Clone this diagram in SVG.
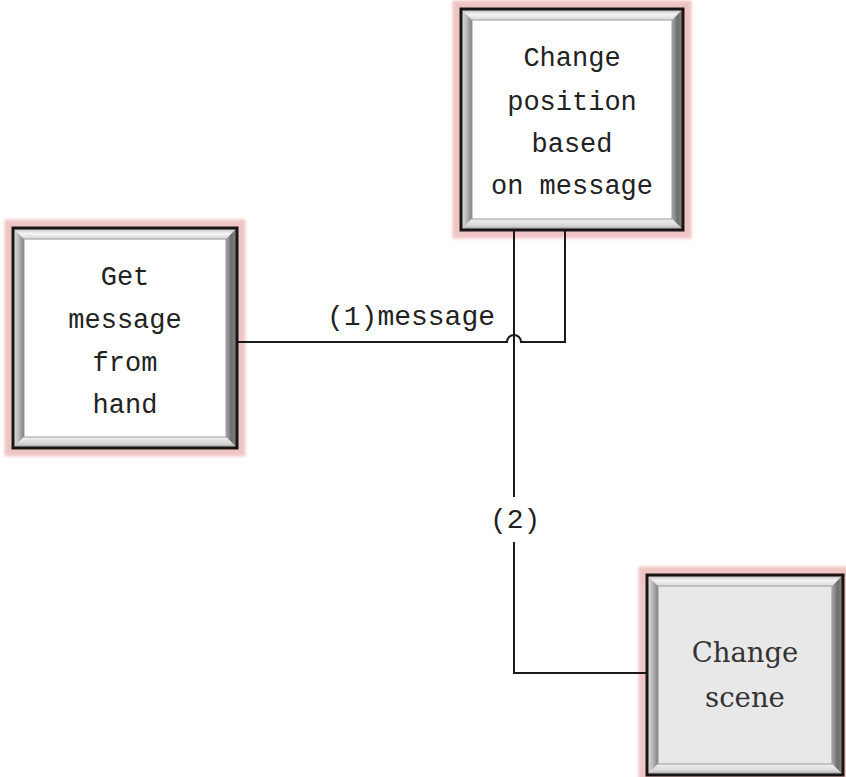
<svg xmlns="http://www.w3.org/2000/svg" width="846" height="777" viewBox="0 0 846 777">
<style>
.glow{fill:none;stroke:#efc4c4;stroke-width:9;filter:url(#blur)}
.frame{fill:none;stroke:#1a1414;stroke-width:3}
.inner{stroke:#9a9a9a;stroke-width:1}
.t{font-family:"Liberation Mono","DejaVu Sans Mono",monospace;font-size:27px;fill:#222;text-anchor:middle}
.t2{font-family:"DejaVu Serif","Liberation Serif",serif;font-size:27.5px;fill:#333;text-anchor:middle}
.lbl{font-family:"Liberation Mono","DejaVu Sans Mono",monospace;font-size:28px;fill:#222}
.c{fill:none;stroke:#1a1a1a;stroke-width:2}
</style>
<defs>
<filter id="blur" x="-10%" y="-10%" width="120%" height="120%"><feGaussianBlur stdDeviation="1.5"/></filter>
<linearGradient id="gTop" x1="0" y1="0" x2="0" y2="1"><stop offset="0" stop-color="#b8b8b8"/><stop offset="0.5" stop-color="#f4f4f4"/><stop offset="1" stop-color="#d8d8d8"/></linearGradient>
<linearGradient id="gLeft" x1="0" y1="0" x2="1" y2="0"><stop offset="0" stop-color="#e6e6e6"/><stop offset="0.6" stop-color="#b0b0b0"/><stop offset="1" stop-color="#7e7e7e"/></linearGradient>
<linearGradient id="gRight" x1="0" y1="0" x2="1" y2="0"><stop offset="0" stop-color="#a8a8a8"/><stop offset="0.5" stop-color="#6e6e6e"/><stop offset="1" stop-color="#8a8a8a"/></linearGradient>
<linearGradient id="gBot" x1="0" y1="0" x2="0" y2="1"><stop offset="0" stop-color="#f2f2f2"/><stop offset="0.6" stop-color="#d6d6d6"/><stop offset="1" stop-color="#9a9a9a"/></linearGradient>
</defs>

<g id="node-change-position">
<rect class="glow" x="457" y="5" width="230" height="229"/>
<polygon points="461,9 683,9 672,20 472,20" fill="url(#gTop)"/>
<polygon points="461,9 472,20 472,219 461,230" fill="url(#gLeft)"/>
<polygon points="683,9 683,230 672,219 672,20" fill="url(#gRight)"/>
<polygon points="461,230 472,219 672,219 683,230" fill="url(#gBot)"/>
<rect class="inner" x="472" y="20" width="200" height="199" fill="#ffffff"/>
<rect class="frame" x="461" y="9" width="222" height="221"/>
<text class="t" x="572" y="66">Change</text>
<text class="t" x="572" y="110">position</text>
<text class="t" x="572" y="152">based</text>
<text class="t" x="572" y="194">on message</text>
</g>

<g id="node-get-message">
<rect class="glow" x="9" y="224" width="232" height="228"/>
<polygon points="13,228 237,228 226,239 24,239" fill="url(#gTop)"/>
<polygon points="13,228 24,239 24,437 13,448" fill="url(#gLeft)"/>
<polygon points="237,228 237,448 226,437 226,239" fill="url(#gRight)"/>
<polygon points="13,448 24,437 226,437 237,448" fill="url(#gBot)"/>
<rect class="inner" x="24" y="239" width="202" height="198" fill="#ffffff"/>
<rect class="frame" x="13" y="228" width="224" height="220"/>
<text class="t" x="125" y="285">Get</text>
<text class="t" x="125" y="328">message</text>
<text class="t" x="125" y="371">from</text>
<text class="t" x="125" y="413">hand</text>
</g>

<g id="node-change-scene">
<rect class="glow" x="643" y="571" width="204" height="208"/>
<polygon points="647,575 843,575 832,586 658,586" fill="url(#gTop)"/>
<polygon points="647,575 658,586 658,764 647,775" fill="url(#gLeft)"/>
<polygon points="843,575 843,775 832,764 832,586" fill="url(#gRight)"/>
<polygon points="647,775 658,764 832,764 843,775" fill="url(#gBot)"/>
<rect class="inner" x="658" y="586" width="174" height="178" fill="#e8e8e8"/>
<rect class="frame" x="647" y="575" width="196" height="200"/>
<text class="t2" x="745" y="662">Change</text>
<text class="t2" x="745" y="707">scene</text>
</g>

<g id="connectors">
<path class="c" d="M238,342 H507 A7,7 0 0 1 521,342 H565 V231"/>
<path class="c" d="M514,231 V497"/>
<path class="c" d="M514,542 V673 H646"/>
<text class="lbl" x="327" y="325">(1)message</text>
<text class="lbl" x="490" y="528" font-size="26">(2)</text>
</g>
</svg>
